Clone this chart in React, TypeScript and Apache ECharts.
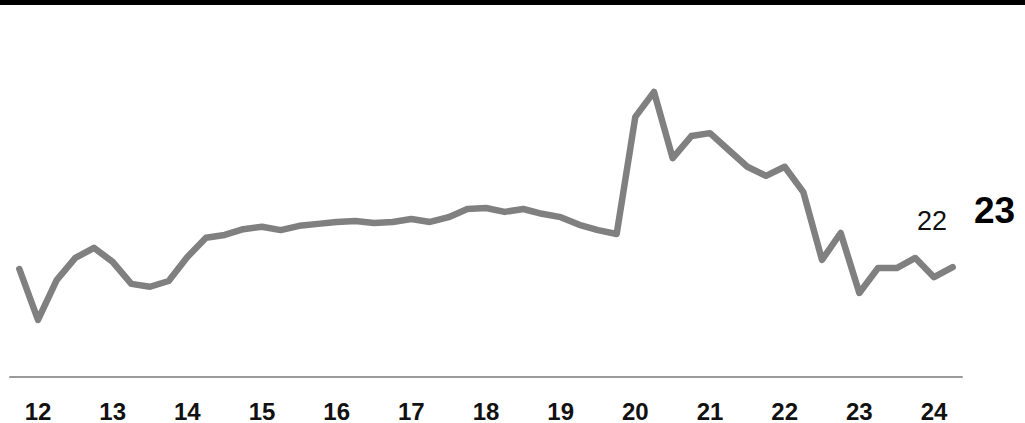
import React, { useEffect, useRef } from "react";
import * as echarts from "echarts";

// Quarterly series, from 2011 Q4 to 2024 Q2
const startYear = 2011;
const startQuarter = 4;
const values: number[] = [
  22.5, 11.9, 20.2, 24.8, 26.9, 24.0, 19.4, 18.8, 20.0, 25.0,
  29.0, 29.6, 30.8, 31.3, 30.6, 31.5, 31.9, 32.3, 32.5, 32.1,
  32.3, 32.9, 32.3, 33.3, 35.0, 35.2, 34.4, 35.0, 34.0, 33.3,
  31.7, 30.6, 29.8, 54.2, 59.4, 45.6, 50.2, 50.8, 47.3, 43.8,
  41.9, 43.8, 38.5, 24.4, 30.0, 17.5, 22.7, 22.7, 24.8, 20.8,
  22.9,
];

const categories: string[] = [];
{
  let y = startYear;
  let q = startQuarter;
  for (let i = 0; i < values.length; i++) {
    categories.push(`${y} Q${q}`);
    q++;
    if (q > 4) {
      q = 1;
      y++;
    }
  }
}

const prevLabel = "22";
const currentLabel = "23";

export default function App() {
  const ref = useRef<HTMLDivElement>(null);
  useEffect(() => {
    if (!ref.current) return;
    const chart = echarts.init(ref.current, null, { renderer: "svg" });
    chart.setOption({
      animation: false,
      backgroundColor: "#ffffff",
      grid: { left: 10, right: 63, top: 77, bottom: 46, containLabel: false },
      xAxis: {
        type: "category",
        data: categories,
        boundaryGap: true,
        axisLine: { show: true, lineStyle: { color: "#9a9a9a", width: 2 } },
        axisTick: { show: false },
        splitLine: { show: false },
        axisLabel: {
          interval: (idx: number, val: string) => val.endsWith("Q1"),
          formatter: (val: string) => val.slice(2, 4),
          margin: 22,
          fontSize: 24,
          fontWeight: "bold",
          color: "#111111",
          fontFamily: "Liberation Sans, Arial, sans-serif",
        },
      },
      yAxis: {
        type: "value",
        min: 0,
        max: 62.5,
        show: false,
        splitLine: { show: false },
      },
      series: [
        {
          type: "line",
          data: values,
          symbol: "none",
          lineStyle: { color: "#808080", width: 6.5, cap: "round", join: "round" },
        },
      ],
      graphic: [
        {
          type: "rect",
          left: 0,
          top: 0,
          shape: { width: 1025, height: 5 },
          style: { fill: "#000000" },
        },
        {
          type: "text",
          left: 917,
          top: 207,
          style: {
            text: prevLabel,
            fontSize: 27,
            fontWeight: "normal",
            fill: "#111111",
            fontFamily: "Liberation Sans, Arial, sans-serif",
          },
        },
        {
          type: "text",
          left: 974,
          top: 192,
          style: {
            text: currentLabel,
            fontSize: 37,
            fontWeight: "bold",
            fill: "#000000",
            fontFamily: "Liberation Sans, Arial, sans-serif",
          },
        },
      ],
    });
    return () => chart.dispose();
  }, []);
  return (
    <div
      ref={ref}
      style={{ position: "fixed", left: 0, top: 0, width: 1025, height: 423 }}
    />
  );
}
